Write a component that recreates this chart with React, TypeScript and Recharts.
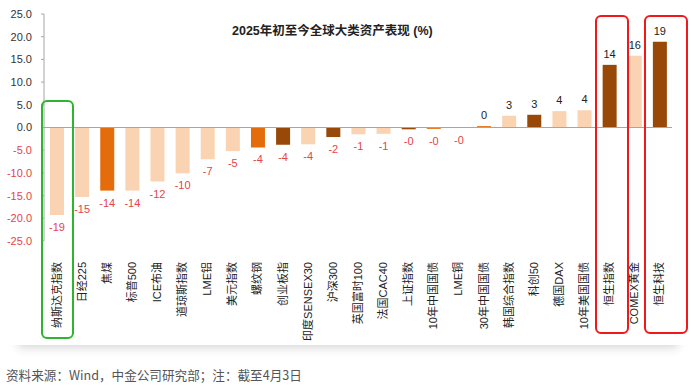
import React from 'react';
import { BarChart, Bar, XAxis, YAxis, Cell, LabelList, ReferenceLine } from 'recharts';

const categories = ['纳斯达克指数', '日经225', '焦煤', '标普500', 'ICE布油', '道琼斯指数', 'LME铝', '美元指数', '螺纹钢', '创业板指', '印度SENSEX30', '沪深300', '英国富时100', '法国CAC40', '上证指数', '10年中国国债', 'LME铜', '30年中国国债', '韩国综合指数', '科创50', '德国DAX', '10年美国国债', '恒生指数', 'COMEX黄金', '恒生科技'];
const values = [-19.3, -15.3, -13.9, -13.9, -11.9, -10.1, -7.0, -5.2, -4.4, -3.8, -3.7, -2.1, -1.5, -1.4, -0.4, -0.3, -0.05, 0.3, 2.6, 2.8, 3.6, 3.8, 13.8, 15.8, 18.9];
const valueLabels = ['-19', '-15', '-14', '-14', '-12', '-10', '-7', '-5', '-4', '-4', '-4', '-2', '-1', '-1', '-0', '-0', '-0', '0', '3', '3', '4', '4', '14', '16', '19'];
const groups = ['L', 'L', 'O', 'L', 'L', 'L', 'L', 'L', 'O', 'D', 'L', 'D', 'L', 'L', 'D', 'O', 'L', 'O', 'L', 'D', 'L', 'L', 'D', 'L', 'D'];
const yTicks = [-25, -20, -15, -10, -5, 0, 5, 10, 15, 20, 25];

const palette: Record<string, string> = { L: '#FAD3B2', O: '#E46C0A', D: '#984807' };
const RED = '#E8424A';
const FONT = "'Liberation Sans', Arial, 'Noto Sans CJK SC', sans-serif";

const data = categories.map((name, i) => ({ name, value: values[i], label: valueLabels[i], group: groups[i] }));

const XTick = (props: any) => {
  const { x, y, payload } = props;
  return (
    <g transform={`translate(${x},${y})`}>
      <text transform="rotate(-90)" x={-21} y={0} dy="0.36em" textAnchor="end" fontSize={11} fill="#222" fontFamily={FONT}>
        {payload.value}
      </text>
    </g>
  );
};

const YTick = (props: any) => {
  const { x, y, payload } = props;
  const v = payload.value as number;
  return (
    <text x={x} y={y} dy="0.36em" textAnchor="end" fontSize={11} fill={v < 0 ? RED : '#333'} fontFamily={FONT}>
      {v.toFixed(1)}
    </text>
  );
};

const renderLabel = (props: any) => {
  const { x, y, width, height, index } = props;
  const v = values[index];
  const top = Math.min(y, y + height);
  const bottom = Math.max(y, y + height);
  const cx = x + width / 2;
  if (v < 0) {
    return (
      <text x={cx} y={bottom + 16} textAnchor="middle" fontSize={11} fill={RED} fontFamily={FONT}>
        {valueLabels[index]}
      </text>
    );
  }
  return (
    <text x={cx} y={top - 7} textAnchor="middle" fontSize={11} fill="#222" fontFamily={FONT}>
      {valueLabels[index]}
    </text>
  );
};

const box = (left: number, top: number, width: number, height: number, color: string): React.CSSProperties => ({
  position: 'absolute', left, top, width, height, border: `2px solid ${color}`, borderRadius: 6, boxSizing: 'border-box', pointerEvents: 'none',
});

export default function App() {
  return (
    <div style={{ position: 'absolute', left: 0, top: 0, width: 699, height: 390, background: '#fff', fontFamily: FONT, overflow: 'hidden' }}>
      <div style={{ position: 'absolute', left: 12, top: 0, width: 672, height: 345, background: '#fff', boxShadow: '0 8px 10px -6px rgba(0,0,0,0.18)' }} />
      <div style={{ position: 'absolute', left: 0, top: 0, width: 699, height: 345, background: '#fff' }}>
        <BarChart width={699} height={345} data={data} margin={{ top: 14, right: 27, left: 0, bottom: 0 }} barSize={14}>
          <YAxis
            domain={[-25, 25]}
            ticks={yTicks}
            interval={0}
            width={44}
            axisLine={{ stroke: '#A6A6A6' }}
            tickLine={{ stroke: '#A6A6A6' }}
            tickSize={3}
            tickMargin={9}
            tick={<YTick />}
          />
          <XAxis dataKey="name" interval={0} height={104} axisLine={false} tickLine={false} tickSize={0} tickMargin={0} tick={<XTick />} />
          <ReferenceLine y={0} stroke="#A6A6A6" strokeWidth={1.2} />
          <Bar dataKey="value" isAnimationActive={false}>
            {data.map((d, i) => (
              <Cell key={i} fill={palette[d.group]} />
            ))}
            <LabelList dataKey="label" content={renderLabel} />
          </Bar>
        </BarChart>
        <div style={{ position: 'absolute', left: 232, top: 20, width: 200, textAlign: 'center', fontSize: 12.5, fontWeight: 'bold', color: '#222', whiteSpace: 'nowrap' }}>
          2025年初至今全球大类资产表现 (%)
        </div>
      </div>
      <div style={box(41, 100, 33, 239, '#2DB52D')} />
      <div style={box(595, 15, 34, 319, '#F01818')} />
      <div style={box(644, 15, 44, 319, '#F01818')} />
      <div style={{ position: 'absolute', left: 6, top: 365, fontSize: 12.6, color: '#555', whiteSpace: 'nowrap', fontFamily: "'Noto Sans CJK SC', sans-serif" }}>
        资料来源：Wind，中金公司研究部；注：截至4月3日
      </div>
    </div>
  );
}
